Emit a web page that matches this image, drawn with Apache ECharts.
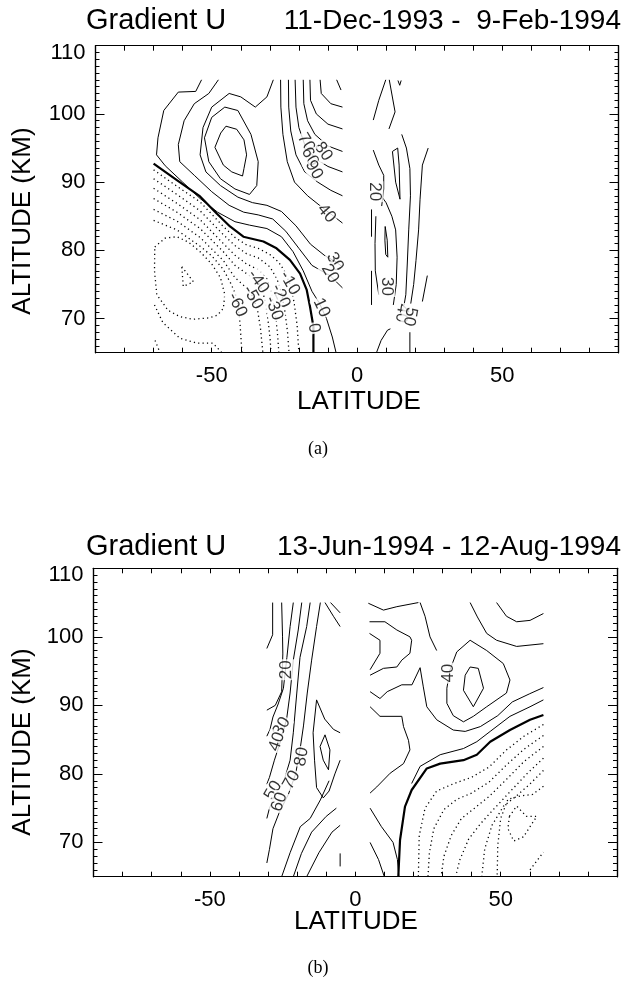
<!DOCTYPE html>
<html><head><meta charset="utf-8">
<script src="https://cdn.jsdelivr.net/npm/echarts@6/dist/echarts.min.js"></script>
<style>html,body{margin:0;padding:0;background:#fff;}#chart{width:634px;height:988px;}</style>
</head><body><div id="chart"></div>
<script>
// ---------- axis ticks ----------
const latTicks = [-50, 0, 50];
const altTicks = [70, 80, 90, 100, 110];
// ---------- titles ----------
const titleA = ['Gradient U', '11-Dec-1993 -  9-Feb-1994'];
const titleB = ['Gradient U', '13-Jun-1994 - 12-Aug-1994'];

// ---------- panel (a) contours, points are [latitude, altitude km] ----------
const aZero = [
  [[-70,92.7],[-62,90.3],[-54,87.9],[-48.3,85.4],[-43.7,83.5],[-39.1,82.0],[-32.2,81.3],[-27.7,80.3],[-23.1,78.6],[-19.6,76.6],[-17.3,74.2],[-16.2,71.8],[-15,68.8],[-15,65]]
];
const aPositive = [
  [[-53.5,105],[-55.5,103.3],[-61.5,103.2],[-66.5,100.5],[-68.5,96.5],[-69,94],[-66,92.4],[-60,90],[-54,87.6],[-48,85.6],[-42,84.2],[-37,83.7],[-31,83.2],[-26,82],[-22,79.8],[-18.5,77],[-15.5,74],[-13,72.3],[-10.5,70],[-8.5,67.3],[-7.2,65]],
  [[-47.7,105],[-51,103],[-56,101.5],[-59.5,99],[-61.5,95.5],[-61,93],[-56,91],[-50,88.6],[-44,86.6],[-39,85.6],[-34,85.2],[-29,84.6],[-24.5,82.8],[-20,80.3],[-15.5,77.8],[-11,76.7],[-9.3,76.3],[-5,74.5]],
  [[-28.8,105],[-31,102.5],[-35,101],[-40,102.5],[-44,103],[-50,101],[-53,98],[-54,94],[-52,91.5],[-47,89.5],[-41,87.8],[-36,87],[-31,86.6],[-26,85.7],[-21,83.6],[-16,80.9],[-11,79.2],[-7.6,78.4],[-5,77.6]],
  [[-45.5,101],[-41,100.5],[-36.5,97],[-34,93],[-34.5,89.5],[-37,88.2],[-42,89],[-47,90.5],[-51,93],[-52.5,96.5],[-50,99.5],[-45.5,101]],
  [[-45.1,98.2],[-41.4,97.75],[-38.9,96.2],[-38.0,94.0],[-38.9,92.0],[-39.4,90.9],[-43.1,91.5],[-46.0,92.5],[-48.9,95.1],[-46.9,97.2],[-45.1,98.2]],
  [[-26.3,105],[-26.2,101],[-25.5,97],[-24,93],[-21.5,90],[-17,88],[-12,86.3],[-8,85],[-5,84]],
  [[-23.6,105],[-23.5,101],[-22.8,97.5],[-21,94],[-18,91.5],[-13.5,90],[-9,88.8],[-5,88]],
  [[-21.3,105],[-21,101],[-20,98],[-18,95.5],[-14.5,93.5],[-10,92.3],[-5,91.5]],
  [[-18.5,105],[-18.3,101.5],[-17,99],[-14.5,97],[-10,95.3],[-5,94.5]],
  [[-16.2,105],[-16,102],[-14,100],[-10,98.5],[-5,97.8]],
  [[-12.7,105],[-12.3,103],[-9,101.5],[-5,101]],
  [[-7,105],[-5.5,103.5]],
  // northern part
  [[5.6,99.1],[7.5,102],[9.9,105]],
  [[11.1,105],[13.1,100.3],[11.0,97.8]],
  [[14.1,104.9],[14.7,104.2],[15.2,104.9]],
  [[15.4,97],[17,95],[18.2,92],[18.4,88],[17.8,83],[17.3,78],[16.8,73.5],[15.8,71]],
  [[12.2,94.5],[14,95],[14.5,92.5],[14.8,87.5],[13.3,90],[12.2,94.5]],
  [[5.6,94.7],[7.5,92.5],[9.2,91],[9.2,89],[8.5,86.5]],
  [[8.3,88],[10,87],[12,85],[13.3,83],[13.8,79],[13.5,75],[12.5,72]],
  [[9.7,83.5],[10.4,81.5],[10.6,79],[9.9,79.4],[9.6,81.5],[9.7,83.5]],
  [[6.5,85],[6.2,81],[6.3,77],[7.5,73.5]],
  [[24.5,95],[22.5,92.5],[21.7,87.5],[21.2,83],[20.3,78.5],[19.5,75],[18.5,72.2]],
  [[24.2,76.3],[22.5,72.5]],
  [[6.7,65],[8.3,66.8],[10.5,68.3],[11.5,68.5]],
  [[18.2,68],[18.2,65]],
  [[5,86],[5,82]],
  [[5,77],[5,72]]
];
const aNegative = [
  [[-70,91.8],[-62,89.4],[-54,87.1],[-46,83.5],[-42,81.9],[-38,80.8],[-34,80.3],[-30,79.4],[-27,78.3],[-25,77.0],[-23.2,75.2],[-21.7,72.5],[-20.6,69],[-20,65]],
  [[-70,90.5],[-62,88.2],[-54,85.8],[-46,82.3],[-42,80.7],[-38,79.5],[-34,78.9],[-30,77.6],[-27.5,75.8],[-26,73.8],[-24.8,71],[-23.9,68],[-23.4,65]],
  [[-70,89.1],[-62,86.9],[-54,84.5],[-46,81.0],[-42,79.3],[-38,78.0],[-34,77.2],[-31,75.8],[-29.4,73.8],[-28.2,71],[-27.4,68],[-26.9,65]],
  [[-70,87.6],[-62,85.6],[-54,83.2],[-46,79.8],[-42,77.8],[-38,76.6],[-34,75.4],[-32.3,73.8],[-31.2,71.5],[-30.4,69],[-29.9,67],[-29.6,65]],
  [[-70,86.0],[-62,84.3],[-54,81.9],[-46,78.5],[-42,76.0],[-38,74.5],[-35.8,73.2],[-34.2,71.2],[-33.2,68.5],[-32.4,65]],
  [[-70,84.4],[-62,83.0],[-54,80.6],[-50,79.2],[-46,77.2],[-43.5,75.2],[-42,73.8],[-41,72.2],[-40.3,69.5],[-39.9,67],[-39.6,65]],
  [[-69.6,80.5],[-66,81.8],[-62,82.0],[-58,81.2],[-54,79.8],[-50,78.0],[-47,76],[-45.5,73.5],[-46,71.5],[-48,70.5],[-51,70.1],[-56.5,69.9],[-61,70.3],[-65,71.2],[-68.9,73.5],[-69.7,77],[-69.6,80.5]],
  [[-60.3,77.6],[-56.3,75.4],[-59.8,74.7],[-60.3,77.6]],
  [[-69.7,72],[-66.8,69.4],[-60.9,67.1],[-55,66.4],[-49.6,66.4],[-46.5,65]],
  [[-69.5,66.8],[-67.8,65]]
];
const aLabels = [
  [-11.6,94.5,'80',-55],[-17.5,95.8,'70',-60],[-16.2,93.7,'60',-60],[-14.8,91.8,'90',-60],
  [-10.5,85.4,'40',-50],[-7.6,78.3,'30',-60],[-9.3,76.6,'20',-60],[-12.2,71.6,'10',-65],[-14.8,68.6,'0',-80],
  [-23.2,75.2,'-10',-60],[-26.3,73.3,'-20',-65],[-28.6,71.5,'-30',-70],[-34,75.4,'-40',-55],[-35.8,73.1,'-50',-60],[-41.2,72,'-60',-65],
  [6.2,88.6,'20',-90],[10.2,74.7,'30',-90],[15.4,70.8,'40',-100],[18.2,70.3,'50',-100]
];

// ---------- panel (b) contours ----------
const bZero = [
  [[14.8,65],[15.4,70.35],[17.1,75.22],[19.4,77.65],[24.6,80.8],[29.2,81.5],[37.2,82.0],[41.8,82.8],[46.4,84.7],[53.2,86.4],[60.1,87.9],[64.7,88.6]]
];
const bPositive = [
  // southern part
  [[-28.4,105],[-28.4,100.3],[-30.4,98.3]],
  [[-25.3,105],[-25,100],[-24.9,97.5],[-25.3,92],[-27.5,90],[-30.4,89.3]],
  [[-21.3,105],[-22.4,101.5],[-23.5,97],[-24.7,92.5],[-26.5,90.2],[-28.3,88.3],[-29.3,86.5],[-30.4,85.5]],
  [[-18.4,105],[-19.6,101],[-21.3,96.6],[-22.4,91.8],[-23.6,88],[-25.5,85],[-27.8,82],[-29.5,79.5],[-30.4,78.5]],
  [[-15.5,105],[-16.7,101.5],[-19,97],[-20.1,91.8],[-21.3,86],[-22.4,82],[-24.5,79],[-27.5,77],[-29.5,75],[-30.4,73.5]],
  [[-12,105],[-13.3,101.5],[-15,96.6],[-16.5,91.8],[-17.8,87],[-19,83.5],[-20.5,80],[-23,77],[-26,74.5],[-28.3,72],[-29.5,69],[-30.4,67]],
  [[-10.4,105],[-7.5,103],[-5.2,101.5]],
  [[-8.5,105],[-5.2,103.5]],
  [[-10.4,85.7],[-8.7,83.5],[-9.2,80.6],[-11,82],[-12.1,84],[-10.4,85.7]],
  [[-13.3,90.8],[-10.5,88],[-7.5,86.5],[-5.2,86]],
  [[-5.2,82],[-7,80],[-9,77.5],[-11,76.5],[-13.3,78],[-14,82],[-14.5,86],[-13.3,90.8]],
  [[-25.3,65],[-22.4,68.5],[-18.9,72.3],[-15.5,73.5],[-12,76.2],[-9,79]],
  [[-21.3,65],[-18.5,68.4],[-15,71.5],[-10,73.8],[-6.5,75]],
  [[-16.7,65],[-12.5,68.5],[-8,71.5],[-5.2,72.5]],
  [[-5.2,68.4],[-5.2,66.5]],
  // northern part
  [[4.5,104.9],[9.7,103.9],[14.3,104.4],[21.7,105]],
  [[4.9,102.2],[10.2,102.2],[14.3,101],[18.8,100],[19.4,99.5],[18.8,97.6],[16,96.6],[14.3,95.6],[9.7,95.4],[5.1,94.4]],
  [[4.9,100.5],[8.5,99.5],[8.5,97.6],[5.1,95.2]],
  [[5.1,89.8],[8.5,88.4],[16,88.4],[16.6,86.9],[18.3,84.9],[18.8,83.5],[16.6,81.5],[12,80.1],[7.4,78.1],[5.1,77.2]],
  [[5.1,92],[8.5,91],[11,92],[16,93],[19.5,93],[22.3,95.5],[23.4,92.7],[24.6,89.8],[28,87.9],[33.7,86.4],[37.8,86.2],[43,86.9],[49,88.5],[54,90.5],[60,91.7],[64.7,92.6]],
  [[22.3,105],[24,103],[25.7,100],[28,98]],
  [[39.5,105],[42,102.9],[45.2,100.5],[48.6,99.5],[55.5,98.6],[64.7,99]],
  [[48.6,105],[52,103],[55.5,102.2],[60.1,102.4],[64.7,103.4]],
  [[39.5,95.6],[42.3,95.4],[44.1,92.5],[40.6,89.8],[37.2,92.2],[37.8,94.4],[39.5,95.6]],
  [[34.9,97.8],[39.5,99.5],[45.2,98],[50.9,96.1],[53.2,93.7],[52,91.8],[45.2,89.8],[40.6,88.4],[37.2,87.6],[33.7,88.5],[31.5,90.3],[31.5,92.5],[32.6,95.2],[34.9,97.8]],
  [[19.4,78.6],[22.3,81.1],[29.2,82.8],[37.2,83.7],[41.8,84.7],[46.4,86.2],[53.2,88.4],[60.1,89.8],[64.7,90.8]],
  [[5.1,75],[9,72.3],[13,70],[14.5,67.5],[15,65]],
  [[5.1,70],[8,67.5],[10,65]]
];
const bNegative = [
  [[64.7,87.2],[58,85.5],[52,83.5],[46,81],[40,79.5],[34,78.6],[28,77.5],[24,75],[22,71],[21.7,65]],
  [[64.7,85.6],[58,83.6],[52,81.3],[46,78.8],[40,77.2],[35,76.3],[30.5,74.8],[27,72],[25.5,68.5],[25,65]],
  [[64.7,84],[58,81.8],[52,79.2],[46,76.7],[41,75],[36.5,73.5],[33,71],[30.5,68],[29.5,65]],
  [[64.7,82.3],[59,80],[53,77.3],[47.5,74.8],[43,72.7],[39,70.5],[36,67.5],[34.5,65]],
  [[64.7,80.5],[60,78.5],[56,77],[51,75.3],[47,72.5],[44.5,69],[43.5,65]],
  [[64.7,78.2],[61,77],[57,76.8],[52.5,76.3],[50,73.5],[49,69.5],[48.8,65]],
  [[53,73.8],[55.5,75.3],[58.9,73.8],[62.4,73.8],[57.8,70.8],[54.5,70.2],[52.5,72],[53,73.8]],
  [[60.1,66],[64.7,68.6]]
];
const bLabels = [
  [-23.6,95.2,'20',90],[-25.3,86.9,'30',60],[-27,84.7,'40',70],[-28.2,77.6,'50',60],[-26.1,75.9,'60',70],
  [-21.9,79.1,'70',60],[-18.4,82.5,'80',80],[32,94.7,'40',90]
];

// ---------- build chart ----------
const FONT = '"Liberation Sans", Arial, Helvetica, sans-serif';
const grids = [
  {left: 95.5, top: 45.7, width: 523, height: 307},
  {left: 93.5, top: 568.3, width: 523.5, height: 308.4}
];
const xAxis = [], yAxis = [];
grids.forEach((g, gi) => {
  const axLine = {show: true, onZero: false, lineStyle: {color: '#000', width: 1.2}};
  const xb = {gridIndex: gi, type: 'value', min: -90, max: 90, interval: 10, splitLine: {show: false}, axisLine: axLine,
    axisTick: {show: true, inside: true, length: 5, lineStyle: {color: '#000', width: 1}}};
  xAxis.push(Object.assign({}, xb, {position: 'bottom',
    axisLabel: {show: true, customValues: latTicks, fontSize: 22, color: '#000', fontFamily: FONT, margin: 12}}));
  xAxis.push(Object.assign({}, xb, {position: 'top', axisLabel: {show: false}}));
  const yb = {gridIndex: gi, type: 'value', min: 65, max: 110, splitLine: {show: false}, axisLine: axLine};
  yAxis.push(Object.assign({}, yb, {position: 'left', interval: 1,
    axisTick: {show: true, inside: true, length: 4, lineStyle: {color: '#000', width: 1}}, axisLabel: {show: false}}));
  yAxis.push(Object.assign({}, yb, {position: 'left', interval: 5,
    axisTick: {show: true, inside: true, length: 9, customValues: altTicks, lineStyle: {color: '#000', width: 1}},
    axisLabel: {show: true, customValues: altTicks, fontSize: 22, color: '#000', fontFamily: FONT, margin: 10,
      formatter: v => v === 110 ? '{t|110}' : String(v),
      rich: {t: {fontSize: 22, fontFamily: FONT, color: '#000', padding: [14, 0, 0, 0]}}}}));
  yAxis.push(Object.assign({}, yb, {position: 'right', interval: 1,
    axisTick: {show: true, inside: true, length: 4, lineStyle: {color: '#000', width: 1}}, axisLabel: {show: false}}));
  yAxis.push(Object.assign({}, yb, {position: 'right', interval: 5,
    axisTick: {show: true, inside: true, length: 9, customValues: altTicks, lineStyle: {color: '#000', width: 1}},
    axisLabel: {show: false}}));
});

const series = [];
function addLines(lines, xi, yi, kind) {
  lines.forEach(pts => {
    series.push({
      type: 'line', xAxisIndex: xi, yAxisIndex: yi, data: pts, symbol: 'none', silent: true,
      animation: false, clip: true, z: 3,
      lineStyle: kind === 'zero' ? {color: '#000', width: 2.2}
        : kind === 'neg' ? {color: '#000', width: 1.3, type: [1.2, 3.2]}
        : {color: '#000', width: 1}
    });
  });
}
function addLabels(labels, xi, yi) {
  series.push({
    type: 'scatter', xAxisIndex: xi, yAxisIndex: yi, symbolSize: 1, silent: true, animation: false, z: 10,
    itemStyle: {color: 'rgba(0,0,0,0)'},
    label: {show: true, position: 'inside', color: '#000', fontSize: 17, fontFamily: FONT, backgroundColor: '#fff', padding: [0, 1]},
    data: labels.map(l => ({value: [l[0], l[1]], label: {formatter: l[2], rotate: l[3]}}))
  });
}
addLines(aZero, 0, 1, 'zero'); addLines(aPositive, 0, 1, 'pos'); addLines(aNegative, 0, 1, 'neg'); addLabels(aLabels, 0, 1);
addLines(bZero, 2, 5, 'zero'); addLines(bPositive, 2, 5, 'pos'); addLines(bNegative, 2, 5, 'neg'); addLabels(bLabels, 2, 5);

function txt(x, y, text, size, align, family, rot) {
  return {type: 'text', x: x, y: y, rotation: rot || 0, silent: true,
    style: {text: text, fill: '#000', font: size + 'px ' + (family || FONT), textAlign: align || 'left', textVerticalAlign: 'middle'}};
}
const graphic = [
  txt(86, 21, titleA[0], 29), txt(621, 21, titleA[1], 28, 'right'),
  txt(86, 547, titleB[0], 29), txt(621, 547, titleB[1], 28, 'right'),
  txt(359, 402, 'LATITUDE', 26, 'center'), txt(356, 922, 'LATITUDE', 26, 'center'),
  txt(23, 221, 'ALTITUDE (KM)', 26, 'center', null, Math.PI / 2),
  txt(23, 742, 'ALTITUDE (KM)', 26, 'center', null, Math.PI / 2),
  txt(318, 449, '(a)', 18, 'center', '"Liberation Serif", "Times New Roman", serif'),
  txt(318, 968, '(b)', 18, 'center', '"Liberation Serif", "Times New Roman", serif')
];

const chart = echarts.init(document.getElementById('chart'), null, {renderer: 'canvas'});
chart.setOption({
  animation: false, backgroundColor: '#fff',
  grid: grids, xAxis: xAxis, yAxis: yAxis, series: series, graphic: graphic
});
</script></body></html>
